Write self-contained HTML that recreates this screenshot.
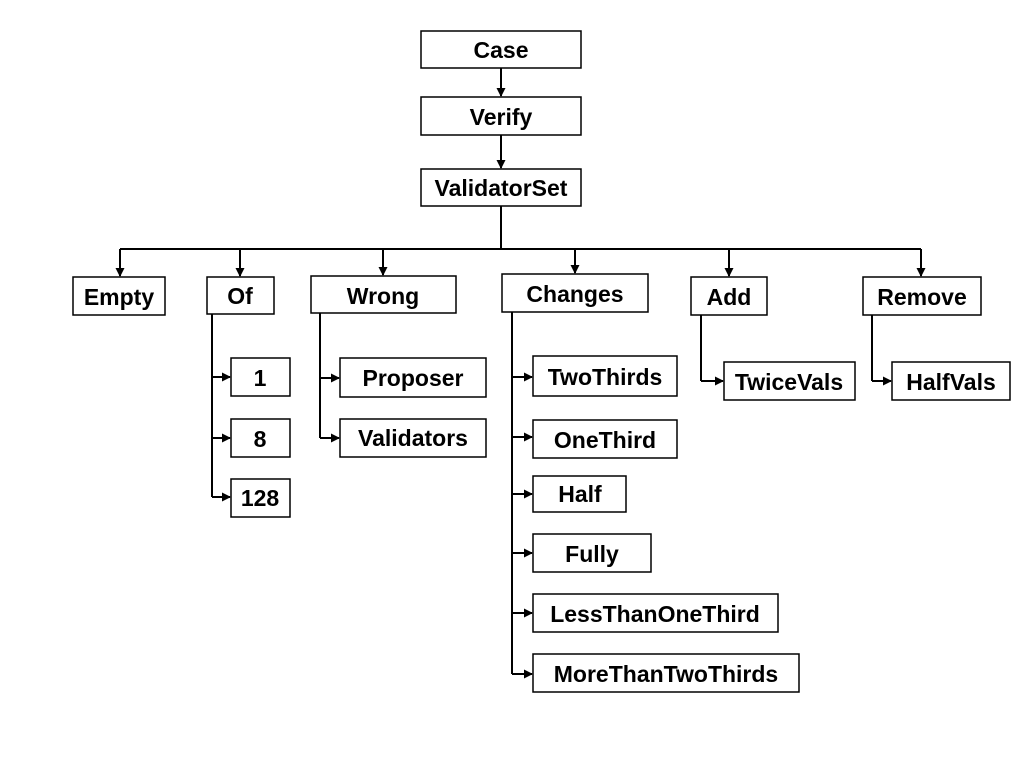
<!DOCTYPE html>
<html><head><style>body{margin:0;background:#fff}svg{display:block}</style></head>
<body>
<svg width="1024" height="768" xmlns="http://www.w3.org/2000/svg">
<defs><marker id="a" markerWidth="9" markerHeight="9" refX="8" refY="4.5" orient="auto" markerUnits="userSpaceOnUse"><path d="M0,0 L9,4.5 L0,9 z" fill="#000"/></marker></defs>
<g fill="#fff" stroke="#000" stroke-width="1.5">
<rect x="421" y="31" width="160" height="37"/>
<rect x="421" y="97" width="160" height="38"/>
<rect x="421" y="169" width="160" height="37"/>
<rect x="73" y="277" width="92" height="38"/>
<rect x="207" y="277" width="67" height="37"/>
<rect x="311" y="276" width="145" height="37"/>
<rect x="502" y="274" width="146" height="38"/>
<rect x="691" y="277" width="76" height="38"/>
<rect x="863" y="277" width="118" height="38"/>
<rect x="231" y="358" width="59" height="38"/>
<rect x="231" y="419" width="59" height="38"/>
<rect x="231" y="479" width="59" height="38"/>
<rect x="340" y="358" width="146" height="39"/>
<rect x="340" y="419" width="146" height="38"/>
<rect x="533" y="356" width="144" height="40"/>
<rect x="533" y="420" width="144" height="38"/>
<rect x="533" y="476" width="93" height="36"/>
<rect x="533" y="534" width="118" height="38"/>
<rect x="533" y="594" width="245" height="38"/>
<rect x="533" y="654" width="266" height="38"/>
<rect x="724" y="362" width="131" height="38"/>
<rect x="892" y="362" width="118" height="38"/>
</g>
<g stroke="#000" stroke-width="2" fill="none">
<line x1="501" y1="68" x2="501" y2="96" marker-end="url(#a)"/>
<line x1="501" y1="135" x2="501" y2="168" marker-end="url(#a)"/>
<path d="M501,206 V249"/>
<path d="M120,249 H921"/>
<line x1="120" y1="249" x2="120" y2="276" marker-end="url(#a)"/>
<line x1="240" y1="249" x2="240" y2="276" marker-end="url(#a)"/>
<line x1="383" y1="249" x2="383" y2="275" marker-end="url(#a)"/>
<line x1="575" y1="249" x2="575" y2="273" marker-end="url(#a)"/>
<line x1="729" y1="249" x2="729" y2="276" marker-end="url(#a)"/>
<line x1="921" y1="249" x2="921" y2="276" marker-end="url(#a)"/>
<path d="M212,314 V497"/>
<line x1="212" y1="377" x2="230" y2="377" marker-end="url(#a)"/>
<line x1="212" y1="438" x2="230" y2="438" marker-end="url(#a)"/>
<line x1="212" y1="497" x2="230" y2="497" marker-end="url(#a)"/>
<path d="M320,313 V438"/>
<line x1="320" y1="378" x2="339" y2="378" marker-end="url(#a)"/>
<line x1="320" y1="438" x2="339" y2="438" marker-end="url(#a)"/>
<path d="M512,312 V674"/>
<line x1="512" y1="377" x2="532" y2="377" marker-end="url(#a)"/>
<line x1="512" y1="437" x2="532" y2="437" marker-end="url(#a)"/>
<line x1="512" y1="494" x2="532" y2="494" marker-end="url(#a)"/>
<line x1="512" y1="553" x2="532" y2="553" marker-end="url(#a)"/>
<line x1="512" y1="613" x2="532" y2="613" marker-end="url(#a)"/>
<line x1="512" y1="674" x2="532" y2="674" marker-end="url(#a)"/>
<path d="M701,315 V381"/>
<line x1="701" y1="381" x2="723" y2="381" marker-end="url(#a)"/>
<path d="M872,315 V381"/>
<line x1="872" y1="381" x2="891" y2="381" marker-end="url(#a)"/>
</g>
<g font-family="Liberation Sans, sans-serif" font-weight="bold" font-size="23" text-anchor="middle" dominant-baseline="central" fill="#000">
<text x="501" y="50">Case</text>
<text x="501" y="117">Verify</text>
<text x="501" y="188">ValidatorSet</text>
<text x="119" y="297">Empty</text>
<text x="240" y="296">Of</text>
<text x="383" y="296">Wrong</text>
<text x="575" y="294">Changes</text>
<text x="729" y="297">Add</text>
<text x="922" y="297">Remove</text>
<text x="260" y="378">1</text>
<text x="260" y="439">8</text>
<text x="260" y="498">128</text>
<text x="413" y="378">Proposer</text>
<text x="413" y="438">Validators</text>
<text x="605" y="377">TwoThirds</text>
<text x="605" y="440">OneThird</text>
<text x="580" y="494">Half</text>
<text x="592" y="554">Fully</text>
<text x="655" y="614">LessThanOneThird</text>
<text x="666" y="674">MoreThanTwoThirds</text>
<text x="789" y="382">TwiceVals</text>
<text x="951" y="382">HalfVals</text>
</g>
</svg>
</body></html>
